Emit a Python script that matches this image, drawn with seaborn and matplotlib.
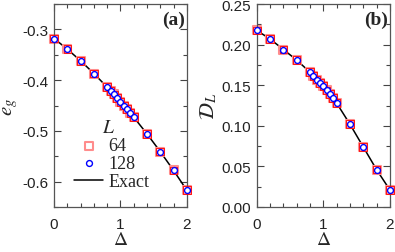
import numpy as np
import pandas as pd
import matplotlib
matplotlib.use("Agg")
import matplotlib.pyplot as plt
import seaborn as sns
from matplotlib.ticker import MultipleLocator

# ---- data ----
delta = [0.0, 0.2, 0.4, 0.6, 0.8, 0.85, 0.9, 0.95, 1.0, 1.05, 1.1, 1.15, 1.2, 1.4, 1.6, 1.8, 2.0]
eg_64 = [-0.318, -0.339, -0.362, -0.387, -0.414, -0.421, -0.428, -0.435, -0.443, -0.450, -0.457, -0.465, -0.473, -0.506, -0.541, -0.578, -0.617]
eg_128 = [-0.318, -0.339, -0.362, -0.387, -0.414, -0.421, -0.428, -0.435, -0.443, -0.450, -0.457, -0.465, -0.473, -0.506, -0.541, -0.578, -0.617]
eg_exact = [-0.318, -0.339, -0.362, -0.387, -0.414, -0.421, -0.428, -0.435, -0.443, -0.450, -0.457, -0.465, -0.473, -0.506, -0.541, -0.578, -0.617]
dl_64 = [0.2175, 0.207, 0.194, 0.181, 0.166, 0.1615, 0.157, 0.153, 0.1487, 0.1437, 0.139, 0.134, 0.128, 0.102, 0.074, 0.046, 0.021]
dl_128 = [0.2175, 0.207, 0.194, 0.181, 0.166, 0.1615, 0.157, 0.153, 0.1487, 0.1437, 0.139, 0.134, 0.128, 0.102, 0.074, 0.046, 0.021]
dl_exact = [0.2175, 0.207, 0.194, 0.181, 0.166, 0.1615, 0.157, 0.153, 0.1487, 0.1437, 0.139, 0.134, 0.128, 0.102, 0.074, 0.046, 0.021]
sizes = ["64", "128"]

sns.set_style("ticks")
plt.rcParams["font.family"] = ["Liberation Sans", "DejaVu Sans"]
plt.rcParams["mathtext.fontset"] = "stix"

fig = plt.figure(figsize=(3.95, 2.53), dpi=100)
axa = fig.add_axes([0.137, 0.178, 0.336, 0.802])
axb = fig.add_axes([0.650, 0.178, 0.337, 0.802])

def panel(ax, y64, y128, yex, ylabel, ylim, major, minor, fmt, tag):
    df = pd.DataFrame({"d": delta, "y64": y64, "y128": y128, "yex": yex})
    sns.lineplot(data=df, x="d", y="yex", ax=ax, color="black", lw=1.1,
                 label="Exact", zorder=1)
    sns.scatterplot(data=df, x="d", y="y64", ax=ax, marker="s", s=30,
                    facecolor="white", edgecolor=(1.0, 0.55, 0.55), linewidth=1.5,
                    label=sizes[0], zorder=2, clip_on=False)
    sns.scatterplot(data=df, x="d", y="y64", ax=ax, marker="s", s=30,
                    facecolor="none", edgecolor="red", linewidth=0.6,
                    zorder=3, clip_on=False)
    sns.scatterplot(data=df, x="d", y="y128", ax=ax, marker="o", s=18,
                    facecolor="white", edgecolor="blue", linewidth=1.0,
                    label=sizes[1], zorder=4, clip_on=False)
    ax.set_xlim(0, 2)
    ax.set_ylim(*ylim)
    ax.xaxis.set_major_locator(MultipleLocator(1))
    ax.xaxis.set_minor_locator(MultipleLocator(0.2))
    ax.yaxis.set_major_locator(MultipleLocator(major))
    ax.yaxis.set_minor_locator(MultipleLocator(minor))
    ax.yaxis.set_major_formatter(plt.FormatStrFormatter(fmt))
    ax.tick_params(which="both", direction="in", top=True, right=True,
                   labelsize=11, colors="#444444", labelcolor="#222222")
    ax.tick_params(which="major", length=5, width=0.8)
    ax.tick_params(which="minor", length=3, width=0.8)
    ax.tick_params(axis="x", pad=7)
    ax.tick_params(axis="y", pad=4)
    for sp in ax.spines.values():
        sp.set_visible(True)
        sp.set_color("#555555")
        sp.set_linewidth(0.9)
    ax.set_xlabel(r"$\Delta$", fontsize=14, labelpad=0)
    ax.set_ylabel(ylabel, fontsize=15, labelpad=2)
    ax.text(0.985, 0.965, tag, transform=ax.transAxes, ha="right", va="top",
            fontsize=14, fontfamily="Liberation Serif", fontweight="bold")

panel(axa, eg_64, eg_128, eg_exact, r"$e_g$", (-0.65, -0.25), 0.1, 0.05, "%.1f", "(a)")
panel(axb, dl_64, dl_128, dl_exact, r"$\mathcal{D}_L$", (0.0, 0.25), 0.05, 0.025, "%.2f", "(b)")

# legend for panel a
h, l = axa.get_legend_handles_labels()
order = [l.index(sizes[0]), l.index(sizes[1]), l.index("Exact")]
leg = axa.legend([h[i] for i in order], [l[i] for i in order], title=r"$L$",
                 loc="lower left", bbox_to_anchor=(0.07, 0.03), frameon=False,
                 prop={"family": "Liberation Serif", "size": 13},
                 title_fontsize=14, handlelength=1.6, handletextpad=0.3,
                 labelspacing=0.05, borderpad=0.1)
leg._legend_box.align = "left"
leg.get_title().set_position((28, 0))
if axb.get_legend():
    axb.get_legend().remove()

fig.savefig("out.png", dpi=100)
